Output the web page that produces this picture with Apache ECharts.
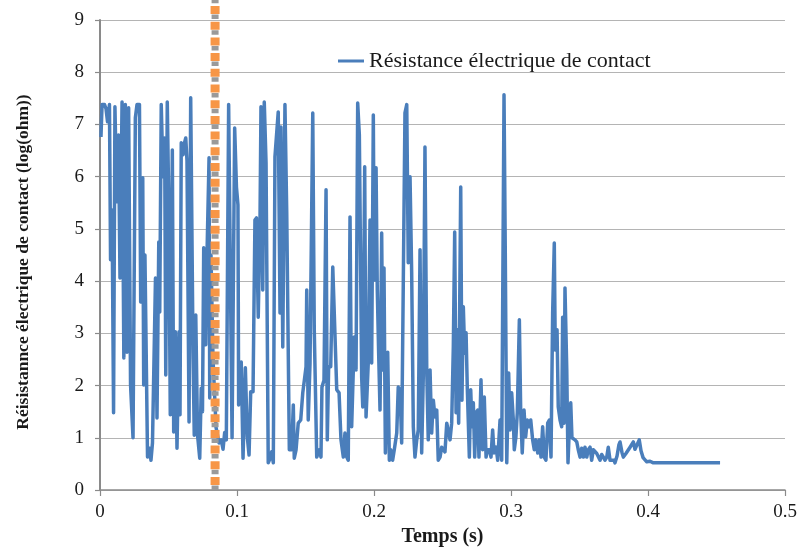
<!DOCTYPE html>
<html>
<head>
<meta charset="utf-8">
<script src="https://cdn.jsdelivr.net/npm/echarts@6/dist/echarts.min.js"></script>
<style>html,body{margin:0;padding:0;background:#fff}#c{width:804px;height:548px}</style>
</head>
<body>
<div id="c"></div>
<script>
// Time (s)
const times = [
0.0007,0.0015,0.0033,0.0044,0.0055,0.0069,0.0077,0.0088,0.0099,0.0109,0.0123,0.0135,0.0146,0.0161,0.0174,0.0185,0.0197,0.0209,0.0223,0.0241,
0.0258,0.0270,0.0288,0.0297,0.0312,0.0319,0.0328,0.0339,0.0347,0.0361,0.0372,0.0383,0.0405,0.0416,0.0429,0.0436,0.0447,0.0460,0.0472,0.0480,
0.0491,0.0502,0.0513,0.0528,0.0538,0.0550,0.0562,0.0577,0.0584,0.0593,0.0606,0.0617,0.0626,0.0635,0.0650,0.0662,0.0679,0.0688,0.0699,0.0712,
0.0728,0.0739,0.0748,0.0757,0.0772,0.0781,0.0796,0.0801,0.0810,0.0825,0.0847,0.0869,0.0885,0.0898,0.0910,0.0922,0.0939,0.0964,0.0983,0.0996,
0.1007,0.1012,0.1031,0.1044,0.1061,0.1075,0.1088,0.1100,0.1117,0.1131,0.1142,0.1155,0.1168,0.1175,0.1188,0.1199,0.1212,0.1228,0.1241,0.1253,
0.1265,0.1277,0.1288,0.1301,0.1314,0.1321,0.1334,0.1350,0.1363,0.1382,0.1399,0.1411,0.1418,0.1431,0.1447,0.1465,0.1480,0.1491,0.1504,0.1509,
0.1520,0.1533,0.1553,0.1564,0.1582,0.1601,0.1613,0.1620,0.1635,0.1650,0.1659,0.1669,0.1684,0.1699,0.1710,0.1728,0.1745,0.1759,0.1776,0.1788,
0.1801,0.1812,0.1825,0.1837,0.1849,0.1856,0.1869,0.1881,0.1893,0.1910,0.1918,0.1932,0.1942,0.1958,0.1971,0.1983,0.1995,0.2002,0.2015,0.2024,
0.2034,0.2044,0.2056,0.2064,0.2073,0.2083,0.2100,0.2112,0.2122,0.2136,0.2148,0.2166,0.2177,0.2190,0.2202,0.2214,0.2226,0.2239,0.2250,0.2263,
0.2275,0.2287,0.2299,0.2312,0.2323,0.2336,0.2348,0.2360,0.2372,0.2385,0.2396,0.2409,0.2421,0.2433,0.2445,0.2458,0.2469,0.2482,0.2494,0.2506,
0.2518,0.2531,0.2542,0.2555,0.2567,0.2579,0.2589,0.2599,0.2608,0.2618,0.2633,0.2642,0.2652,0.2662,0.2672,0.2681,0.2696,0.2706,0.2715,0.2725,
0.2735,0.2745,0.2757,0.2766,0.2781,0.2793,0.2805,0.2818,0.2827,0.2842,0.2854,0.2866,0.2876,0.2891,0.2903,0.2920,0.2932,0.2949,0.2958,0.2969,
0.2983,0.2993,0.3005,0.3017,0.3024,0.3036,0.3046,0.3061,0.3071,0.3082,0.3095,0.3107,0.3119,0.3131,0.3144,0.3158,0.3170,0.3182,0.3195,0.3207,
0.3219,0.3231,0.3243,0.3255,0.3268,0.3280,0.3292,0.3304,0.3316,0.3323,0.3336,0.3345,0.3358,0.3370,0.3377,0.3387,0.3394,0.3407,0.3416,0.3426,
0.3436,0.3445,0.3455,0.3467,0.3480,0.3491,0.3504,0.3516,0.3528,0.3540,0.3553,0.3564,0.3577,0.3589,0.3601,0.3613,0.3626,0.3637,0.3650,0.3662,
0.3674,0.3686,0.3699,0.3710,0.3723,0.3737,0.3752,0.3759,0.3774,0.3788,0.3796,0.3810,0.3820,0.3839,0.3869,0.3893,0.3905,0.3916,0.3936,0.3949,
0.3964,0.3991,0.4015,0.4039,0.4088,0.4380,0.4526
];
// Contact resistance (log(ohm))
const resistance = [
6.76,7.38,7.38,7.30,7.05,7.38,4.41,5.36,1.48,7.34,5.52,6.80,4.06,7.43,2.53,7.38,2.64,7.32,2.01,1.00,
7.13,7.38,7.38,3.60,5.98,2.01,4.50,4.50,0.63,0.80,0.57,0.90,4.06,1.38,4.75,3.41,7.38,6.00,6.74,2.20,
7.43,5.46,1.44,6.51,1.11,3.03,0.80,3.03,1.44,6.65,6.42,6.65,6.74,6.30,1.30,7.51,2.64,1.05,3.35,1.05,
0.61,1.95,1.50,4.64,2.78,4.50,6.36,1.76,4.50,2.50,1.20,0.90,0.96,0.78,1.10,0.96,7.38,1.00,6.93,5.80,
5.46,1.63,2.45,0.61,2.34,1.02,0.67,1.88,1.88,5.17,5.21,3.31,5.17,7.34,3.83,7.43,6.26,0.52,0.60,0.73,
0.52,6.38,6.38,7.24,3.39,6.95,2.74,7.38,5.31,0.77,0.77,1.63,0.61,0.77,1.28,1.34,1.86,1.86,2.36,3.83,
1.34,2.43,7.22,3.07,0.63,0.77,0.63,1.97,2.10,5.75,0.96,2.36,2.36,4.27,3.39,1.92,1.86,0.96,0.63,1.09,
0.63,0.57,5.23,1.21,1.21,2.93,2.30,7.41,6.80,2.16,1.59,6.19,1.40,2.43,5.17,2.43,7.18,4.02,6.17,3.83,
2.62,1.53,4.92,2.30,4.25,0.71,2.64,0.57,0.77,0.57,0.77,1.09,1.97,1.92,0.90,4.02,7.22,7.38,4.35,6.00,
4.16,1.21,0.63,0.96,1.15,4.60,0.71,2.20,6.57,2.30,0.96,2.30,1.09,1.72,1.40,1.53,0.57,0.63,0.82,0.85,
0.73,1.28,1.28,0.96,1.28,2.74,4.94,1.48,3.07,1.28,5.80,1.72,3.51,2.62,3.01,1.95,0.63,1.92,1.21,1.67,
0.63,1.48,1.53,0.63,2.11,0.77,1.78,0.63,0.77,0.77,0.63,1.15,0.71,0.82,0.57,1.34,0.57,7.57,4.66,0.52,
2.24,1.15,1.86,1.34,0.77,1.02,1.48,3.26,1.48,0.71,1.53,1.02,1.34,1.21,1.34,0.96,0.77,0.96,0.71,0.96,
0.63,1.21,0.63,0.57,1.28,1.34,0.63,3.39,4.73,2.68,3.07,1.59,1.34,1.21,3.31,1.28,3.87,2.30,0.52,1.21,
1.67,1.00,1.02,0.96,0.92,0.77,0.63,0.80,0.63,0.82,0.63,0.77,0.82,0.57,0.77,0.80,0.70,0.73,0.57,0.68,
0.63,0.57,0.63,0.82,0.57,0.60,0.57,0.52,0.65,0.87,0.92,0.72,0.63,0.70,0.82,0.92,0.78,0.75,0.96,0.75,
0.62,0.54,0.55,0.52,0.52,0.52,0.52
];
const xTicks = [0, 0.1, 0.2, 0.3, 0.4, 0.5];
const yTicks = [0, 1, 2, 3, 4, 5, 6, 7, 8, 9];
const markerTime = [0.084];
const markerSpan = [0, 9.4];

const seriesName = 'Résistance électrique de contact';
const lineData = times.map((t, i) => [t, resistance[i]]);
const markerData = markerSpan.map(v => [markerTime[0], v]);

const FONT = "'Liberation Serif','Times New Roman',serif";
const chart = echarts.init(document.getElementById('c'));
chart.setOption({
  animation: false,
  backgroundColor: '#ffffff',
  grid: { left: 100, right: 19, top: 20, bottom: 58, containLabel: false, outerBoundsMode: 'none' },
  legend: {
    data: [{ name: seriesName, icon: 'rect' }],
    left: 333, top: 45,
    itemWidth: 26, itemHeight: 3, itemGap: 6,
    textStyle: { fontFamily: FONT, fontSize: 22, color: '#1a1a1a', padding: [0, 0, 0, 0] }
  },
  xAxis: {
    type: 'value', min: xTicks[0], max: xTicks[xTicks.length - 1], interval: 0.1,
    name: 'Temps (s)', nameLocation: 'middle', nameGap: 37,
    nameTextStyle: { fontFamily: FONT, fontSize: 20, fontWeight: 'bold', color: '#1a1a1a' },
    axisLine: { lineStyle: { color: '#8a8a8a', width: 1.5 } },
    axisTick: { show: true, inside: false, length: 6, lineStyle: { color: '#8a8a8a', width: 1.2 } },
    axisLabel: { fontFamily: FONT, fontSize: 19, color: '#1a1a1a', margin: 13 },
    splitLine: { show: false }
  },
  yAxis: {
    type: 'value', min: yTicks[0], max: yTicks[yTicks.length - 1], interval: 1,
    name: 'Réisistannce électrique de contact (log(ohm))', nameLocation: 'middle', nameGap: 68, nameRotate: 90,
    nameTextStyle: { fontFamily: FONT, fontSize: 17.5, fontWeight: 'bold', color: '#1a1a1a', padding: [0, 14, 0, 0] },
    axisLine: { show: true, lineStyle: { color: '#8a8a8a', width: 2 } },
    axisTick: { show: true, inside: false, length: 5, lineStyle: { color: '#8a8a8a', width: 1.2 } },
    axisLabel: { fontFamily: FONT, fontSize: 19, color: '#1a1a1a', margin: 16 },
    splitLine: { show: true, lineStyle: { color: '#b4b4b4', width: 1.2 } }
  },
  series: [
    {
      name: seriesName, type: 'line', data: lineData,
      symbol: 'none', showSymbol: false,
      lineStyle: { color: '#4a7ebb', width: 3.5, join: 'round' },
      itemStyle: { color: '#4a7ebb' },
      z: 3
    },
    {
      name: 'marker-grey', type: 'line', data: markerData, clip: false,
      symbol: 'none', silent: true, legendHoverLink: false,
      lineStyle: { color: '#9a9a9a', width: 7, type: [4.5, 11.2], dashOffset: 0, cap: 'butt' },
      z: 4
    },
    {
      name: 'marker-orange', type: 'line', data: markerData, clip: false,
      symbol: 'none', silent: true, legendHoverLink: false,
      lineStyle: { color: '#f79646', width: 9, type: [8, 7.7], dashOffset: 10.7, cap: 'butt' },
      z: 5
    }
  ]
});
</script>
</body>
</html>
